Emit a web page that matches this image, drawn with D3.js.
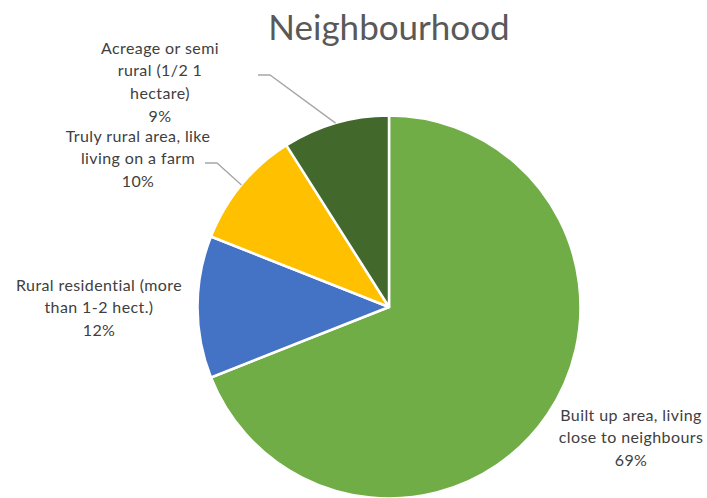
<!DOCTYPE html>
<html>
<head>
<meta charset="utf-8">
<script src="https://cdn.jsdelivr.net/npm/d3@7/dist/d3.min.js"></script>
<style>
  body { margin: 0; background: #fff; }
  svg { display: block; font-family: Lato, "Open Sans", sans-serif; }
</style>
</head>
<body>
<svg id="chart" width="707" height="498"></svg>
<script>
// data
var categories = [
  "Built up area, living close to neighbours",
  "Rural residential (more than 1-2 hect.)",
  "Truly rural area, like living on a farm",
  "Acreage or semi rural (1/2 1 hectare)"
];
var values = [69, 12, 10, 9];
var labelLines = [
  ["Built up area, living", "close to neighbours"],
  ["Rural residential (more", "than 1-2 hect.)"],
  ["Truly rural area, like", "living on a farm"],
  ["Acreage or semi", "rural (1/2 1", "hectare)"]
];

var colors = ["#70AD47", "#4472C4", "#FFC000", "#43682B"];
// label block centres (x, top line middle y) and leader elbows (null = no leader)
var labelPos = [[631, 415], [99, 285], [138, 136], [160, 48]];
var elbows = [null, null, [217, 163], [270, 75]];
var elbowEnds = [null, null, 205, 258];

var width = 707, height = 498;
var cx = 389, cy = 307, radius = 191.5;
var lineH = 22.7;

var svg = d3.select("#chart");

svg.append("text")
  .attr("x", 389)
  .attr("y", 40)
  .attr("text-anchor", "middle")
  .attr("font-size", 35)
  .attr("fill", "#595959")
  .text("Neighbourhood");

var pie = d3.pie().sort(null).value(function(d) { return d; });
var arcs = pie(values);
var arc = d3.arc().innerRadius(0).outerRadius(radius);

var g = svg.append("g").attr("transform", "translate(" + cx + "," + cy + ")");

g.selectAll("path")
  .data(arcs)
  .enter().append("path")
  .attr("d", arc)
  .attr("fill", function(d, i) { return colors[i]; })
  .attr("stroke", "#fff")
  .attr("stroke-width", 2.5)
  .attr("stroke-linejoin", "round");

// leader lines
arcs.forEach(function(d, i) {
  if (!elbows[i]) return;
  var a = (d.startAngle + d.endAngle) / 2;
  var px = cx + radius * Math.sin(a), py = cy - radius * Math.cos(a);
  svg.append("polyline")
    .attr("points", [[px, py], elbows[i], [elbowEnds[i], elbows[i][1]]].map(function(p) { return p.join(","); }).join(" "))
    .attr("fill", "none")
    .attr("stroke", "#A6A6A6")
    .attr("stroke-width", 1.3);
});

// labels
var total = d3.sum(values);
arcs.forEach(function(d, i) {
  var lines = labelLines[i].concat([Math.round(d.value / total * 100) + "%"]);
  var t = svg.append("text")
    .attr("text-anchor", "middle")
    .attr("font-size", 16)
    .attr("letter-spacing", 0.4)
    .attr("fill", "#404040");
  lines.forEach(function(s, j) {
    t.append("tspan")
      .attr("x", labelPos[i][0])
      .attr("y", labelPos[i][1] + j * lineH)
      .attr("dy", "0.35em")
      .text(s);
  });
});
</script>
</body>
</html>
